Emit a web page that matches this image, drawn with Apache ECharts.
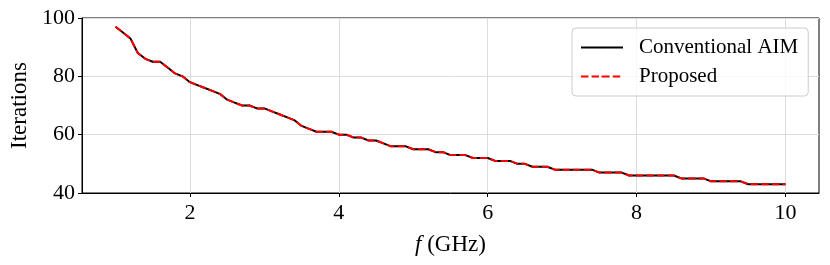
<!DOCTYPE html>
<html>
<head>
<meta charset="utf-8">
<script src="https://cdn.jsdelivr.net/npm/echarts@6/dist/echarts.min.js"></script>
<style>
  html, body { margin: 0; padding: 0; background: #fff; }
  #chart { width: 830px; height: 265px; }
</style>
</head>
<body>
<div id="chart"></div>
<script>
// frequency samples (GHz)
var freqs = [
  1.0, 1.1, 1.2, 1.3, 1.4, 1.5, 1.6, 1.7, 1.8, 1.9,
  2.0, 2.1, 2.2, 2.3, 2.4, 2.5, 2.6, 2.7, 2.8, 2.9,
  3.0, 3.1, 3.2, 3.3, 3.4, 3.5, 3.6, 3.7, 3.8, 3.9,
  4.0, 4.1, 4.2, 4.3, 4.4, 4.5, 4.6, 4.7, 4.8, 4.9,
  5.0, 5.1, 5.2, 5.3, 5.4, 5.5, 5.6, 5.7, 5.8, 5.9,
  6.0, 6.1, 6.2, 6.3, 6.4, 6.5, 6.6, 6.7, 6.8, 6.9,
  7.0, 7.1, 7.2, 7.3, 7.4, 7.5, 7.6, 7.7, 7.8, 7.9,
  8.0, 8.1, 8.2, 8.3, 8.4, 8.5, 8.6, 8.7, 8.8, 8.9,
  9.0, 9.1, 9.2, 9.3, 9.4, 9.5, 9.6, 9.7, 9.8, 9.9,
  10.0
];
var conventional = [
  97, 95, 93, 88, 86, 85, 85, 83, 81, 80,
  78, 77, 76, 75, 74, 72, 71, 70, 70, 69,
  69, 68, 67, 66, 65, 63, 62, 61, 61, 61,
  60, 60, 59, 59, 58, 58, 57, 56, 56, 56,
  55, 55, 55, 54, 54, 53, 53, 53, 52, 52,
  52, 51, 51, 51, 50, 50, 49, 49, 49, 48,
  48, 48, 48, 48, 48, 47, 47, 47, 47, 46,
  46, 46, 46, 46, 46, 46, 45, 45, 45, 45,
  44, 44, 44, 44, 44, 43, 43, 43, 43, 43,
  43
];
var proposed = [
  97, 95, 93, 88, 86, 85, 85, 83, 81, 80,
  78, 77, 76, 75, 74, 72, 71, 70, 70, 69,
  69, 68, 67, 66, 65, 63, 62, 61, 61, 61,
  60, 60, 59, 59, 58, 58, 57, 56, 56, 56,
  55, 55, 55, 54, 54, 53, 53, 53, 52, 52,
  52, 51, 51, 51, 50, 50, 49, 49, 49, 48,
  48, 48, 48, 48, 48, 47, 47, 47, 47, 46,
  46, 46, 46, 46, 46, 46, 45, 45, 45, 45,
  44, 44, 44, 44, 44, 43, 43, 43, 43, 43,
  43
];
var xTicks = [2, 4, 6, 8, 10];

function pairs(xs, ys) {
  var out = [];
  for (var i = 0; i < xs.length; i++) {
    out.push([xs[i], ys[i]]);
  }
  return out;
}

var font = 'Liberation Serif';
var chart = echarts.init(document.getElementById('chart'));
var option = {
  animation: false,
  grid: {
    left: 81, right: 11, top: 18, bottom: 72,
    show: true, borderColor: '#000', borderWidth: 1, backgroundColor: 'transparent'
  },
  legend: {
    orient: 'vertical',
    left: 572, top: 28,
    padding: [9, 10, 9, 8],
    backgroundColor: 'rgba(255,255,255,0.8)',
    borderColor: '#cccccc', borderWidth: 1, borderRadius: 4,
    itemWidth: 42, itemHeight: 2, itemGap: 8,
    lineStyle: { width: 2 },
    textStyle: { fontFamily: font, fontSize: 21, color: '#000', padding: [0, 0, 0, 11] },
    data: ['Conventional AIM', 'Proposed']
  },
  xAxis: {
    type: 'value',
    min: 0.55, max: 10.45,
    name: '{i|f} (GHz)',
    nameLocation: 'middle', nameGap: 40,
    nameTextStyle: {
      fontFamily: font, fontSize: 23, color: '#000',
      rich: { i: { fontFamily: font, fontStyle: 'italic', fontSize: 23, color: '#000' } }
    },
    axisLine: { show: true, onZero: false, lineStyle: { color: '#000', width: 1 } },
    axisTick: { show: true, length: 4, lineStyle: { color: '#000' }, customValues: xTicks },
    axisLabel: { fontFamily: font, fontSize: 22, color: '#000', margin: 9, customValues: xTicks },
    splitLine: { show: true, lineStyle: { color: '#dcdcdc', width: 1 } }
  },
  yAxis: {
    type: 'value',
    min: 40, max: 100, interval: 20,
    name: 'Iterations',
    nameLocation: 'middle', nameGap: 51,
    nameTextStyle: { fontFamily: font, fontSize: 23, color: '#000' },
    axisLine: { show: true, lineStyle: { color: '#000', width: 1 } },
    axisTick: { show: true, length: 4, lineStyle: { color: '#000' } },
    axisLabel: { fontFamily: font, fontSize: 22, color: '#000', margin: 7 },
    splitLine: { show: true, lineStyle: { color: '#dcdcdc', width: 1 } }
  },
  series: [
    {
      name: 'Conventional AIM',
      type: 'line',
      data: pairs(freqs, conventional),
      showSymbol: false, symbol: 'none',
      color: '#000',
      lineStyle: { color: '#000', width: 2 }
    },
    {
      name: 'Proposed',
      type: 'line',
      data: pairs(freqs, proposed),
      showSymbol: false, symbol: 'none',
      color: '#ff0000',
      lineStyle: { color: '#ff0000', width: 2, type: [7.4, 3.2] }
    }
  ]
};
chart.setOption(option);
</script>
</body>
</html>
